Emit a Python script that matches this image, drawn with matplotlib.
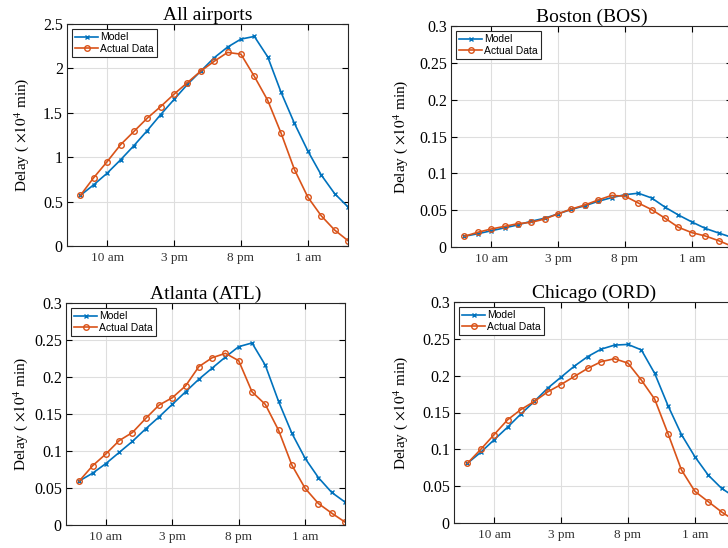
import numpy as np
import matplotlib
matplotlib.use("Agg")
import matplotlib.pyplot as plt

plt.rcParams['font.family'] = ['Liberation Serif', 'DejaVu Serif']
plt.rcParams['mathtext.fontset'] = 'stix'

# hour of day (8 am .. 4 am next day)
hours = list(range(8, 29))
tick_pos = [10, 15, 20, 25]
tick_labels = ["10 am", "3 pm", "8 pm", "1 am"]

all_model = [0.57, 0.69, 0.82, 0.97, 1.13, 1.30, 1.48, 1.65, 1.82, 1.97, 2.12,
             2.24, 2.33, 2.36, 2.13, 1.73, 1.38, 1.07, 0.80, 0.59, 0.44]
all_actual = [0.57, 0.77, 0.95, 1.14, 1.29, 1.44, 1.57, 1.71, 1.84, 1.97, 2.08,
              2.18, 2.16, 1.91, 1.64, 1.27, 0.86, 0.55, 0.34, 0.18, 0.06]

bos_model = [0.0145, 0.018, 0.022, 0.026, 0.030, 0.035, 0.039, 0.045, 0.051, 0.056, 0.062,
             0.067, 0.071, 0.073, 0.0665, 0.054, 0.0434, 0.034, 0.0253, 0.019, 0.013]
bos_actual = [0.0145, 0.020, 0.0244, 0.028, 0.0317, 0.0335, 0.038, 0.045, 0.0516, 0.057, 0.0638,
              0.070, 0.069, 0.0597, 0.0507, 0.039, 0.0267, 0.0195, 0.015, 0.0086, 0.001]

atl_model = [0.0595, 0.070, 0.083, 0.098, 0.113, 0.130, 0.146, 0.163, 0.180, 0.197, 0.212,
             0.227, 0.241, 0.246, 0.216, 0.167, 0.124, 0.090, 0.064, 0.044, 0.031]
atl_actual = [0.0595, 0.080, 0.096, 0.114, 0.125, 0.144, 0.162, 0.172, 0.188, 0.214, 0.226,
              0.232, 0.222, 0.180, 0.163, 0.128, 0.081, 0.0495, 0.029, 0.016, 0.004]

ord_model = [0.081, 0.096, 0.113, 0.130, 0.148, 0.165, 0.183, 0.198, 0.213, 0.226, 0.236,
             0.2415, 0.2424, 0.235, 0.203, 0.159, 0.120, 0.090, 0.065, 0.047, 0.035]
ord_actual = [0.081, 0.100, 0.120, 0.140, 0.154, 0.165, 0.178, 0.188, 0.199, 0.210, 0.219,
              0.223, 0.217, 0.194, 0.168, 0.121, 0.072, 0.043, 0.029, 0.015, 0.003]

BLUE = '#0072BD'
ORANGE = '#D95319'

fig = plt.figure(figsize=(7.28, 5.48), dpi=100)
W, H = 728.0, 548.0

def make_axes(left, top, right, bottom):
    return fig.add_axes([left / W, 1 - bottom / H, (right - left) / W, (bottom - top) / H])

small_ticks = [0, 0.05, 0.1, 0.15, 0.2, 0.25, 0.3]
small_labels = ["0", "0.05", "0.1", "0.15", "0.2", "0.25", "0.3"]

panels = [
    (make_axes(67, 24, 348, 246), "All airports", all_model, all_actual, 2.5,
     [0, 0.5, 1, 1.5, 2, 2.5], ["0", "0.5", "1", "1.5", "2", "2.5"], 31),
    (make_axes(451, 26, 732, 247), "Boston (BOS)", bos_model, bos_actual, 0.3, small_ticks, small_labels, 410),
    (make_axes(66, 303, 345, 525), "Atlanta (ATL)", atl_model, atl_actual, 0.3, small_ticks, small_labels, 30),
    (make_axes(454, 302, 735, 523), "Chicago (ORD)", ord_model, ord_actual, 0.3, small_ticks, small_labels, 410),
]

for ax, title, model, actual, ymax, yt, ytl, ylab_x in panels:
    ax.plot(hours, model, '-', color=BLUE, lw=1.2, marker='x', ms=2.8, mew=1.0, label='Model')
    ax.plot(hours, actual, '-', color=ORANGE, lw=1.2, marker='o', ms=4, mfc='none', mew=1.0, label='Actual Data')
    ax.set_xlim(7, 28)
    ax.set_ylim(0, ymax)
    ax.set_xticks(tick_pos)
    ax.set_xticklabels(tick_labels, fontsize=9.5, color='#333333')
    ax.set_yticks(yt)
    ax.set_yticklabels(ytl, fontsize=11.5)
    ax.grid(True, color='#dedede', lw=0.8)
    ax.set_axisbelow(True)
    ax.tick_params(direction='in', length=4, width=0.8, top=True, right=True, pad=4)
    ax.tick_params(axis='y', pad=3)
    for s in ax.spines.values():
        s.set_color('#262626')
        s.set_linewidth(0.8)
    ax.set_title(title, fontsize=14, pad=3)
    ax.set_ylabel(r"Delay ( $\times10^4$ min)", fontsize=11)
    pos = ax.get_position()
    ax.yaxis.set_label_coords((ylab_x - pos.x0 * W) / (pos.width * W), 0.5)
    leg = ax.legend(loc='upper left', prop={'family': 'Liberation Sans', 'size': 7.5},
                    fancybox=False, framealpha=1, edgecolor='#262626', handlelength=2.2,
                    handletextpad=0.2, borderpad=0.3, labelspacing=0.15, borderaxespad=0.5)
    leg.get_frame().set_linewidth(0.8)

fig.savefig("out.png", dpi=100)
